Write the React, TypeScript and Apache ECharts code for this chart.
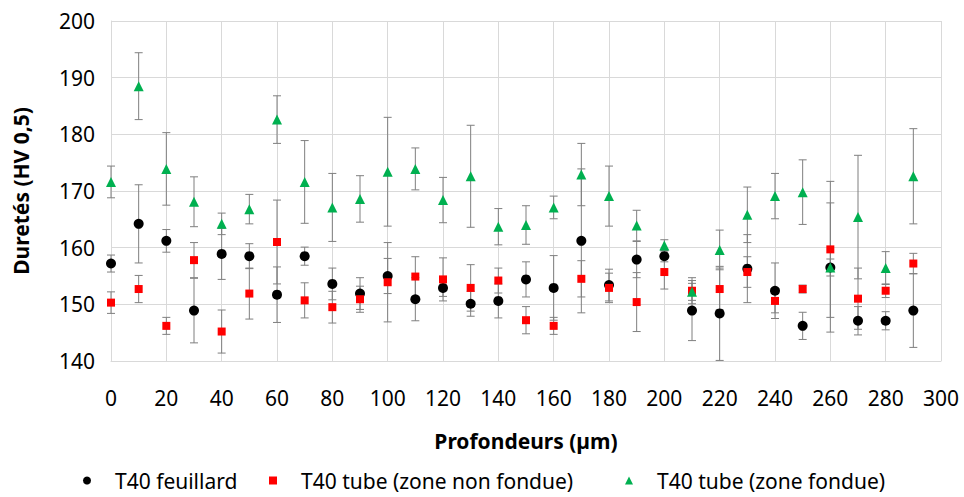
import React, { useEffect, useRef } from "react";
import * as echarts from "echarts";

const depths = [0, 10, 20, 30, 40, 50, 60, 70, 80, 90, 100, 110, 120, 130, 140, 150, 160, 170, 180, 190, 200, 210, 220, 230, 240, 250, 260, 270, 280, 290];

const feuillardMean = [157.2, 164.2, 161.2, 148.9, 158.9, 158.5, 151.7, 158.5, 153.6, 151.9, 155.0, 150.9, 152.9, 150.1, 150.6, 154.4, 152.9, 161.2, 153.4, 157.9, 158.5, 148.9, 148.4, 156.3, 152.4, 146.2, 156.5, 147.1, 147.1, 148.9];
const feuillardErr = [1.5, 6.9, 2.0, 5.7, 4.5, 2.2, 4.9, 1.6, 2.8, 2.8, 3.1, 3.8, 1.5, 2.2, 3.0, 3.1, 5.7, 12.7, 2.8, 3.2, 1.0, 5.3, 8.3, 6.0, 4.9, 2.4, 11.4, 2.5, 1.6, 6.5];

const nonFondueMean = [150.3, 152.7, 146.2, 157.8, 145.2, 151.9, 161.0, 150.7, 149.5, 150.9, 153.9, 154.9, 154.4, 152.9, 154.2, 147.2, 146.2, 154.5, 152.9, 150.4, 155.7, 152.4, 152.7, 155.7, 150.6, 152.7, 159.7, 151.0, 152.4, 157.2];
const nonFondueErr = [1.9, 2.4, 1.5, 3.1, 3.8, 4.5, 7.4, 3.1, 2.8, 2.3, 7.0, 3.5, 3.8, 4.1, 2.2, 2.4, 1.5, 3.2, 2.6, 5.2, 3.0, 2.3, 3.7, 2.7, 2.1, 0.7, 12.0, 5.4, 1.2, 1.8];

const fondueMean = [171.6, 188.5, 173.9, 168.1, 164.2, 166.8, 182.6, 171.6, 167.1, 168.6, 173.4, 173.9, 168.4, 172.6, 163.7, 164.0, 167.1, 172.9, 169.1, 163.9, 160.4, 152.2, 159.6, 165.8, 169.1, 169.8, 156.5, 165.4, 156.4, 172.6];
const fondueErr = [2.8, 5.9, 6.4, 4.4, 1.9, 2.6, 4.2, 7.3, 6.0, 4.1, 9.6, 3.7, 4.0, 9.0, 3.2, 3.4, 2.0, 5.5, 5.3, 2.7, 1.0, 1.5, 3.5, 4.9, 4.0, 5.7, 1.5, 10.9, 2.9, 8.4];

const seriesNames = ["T40 feuillard", "T40 tube (zone non fondue)", "T40 tube (zone fondue)"];
const FONT = "'Noto Sans', sans-serif";

function errData(mean: number[], err: number[]) {
  return depths.map((d, i) => [d, mean[i] - err[i], mean[i] + err[i]]);
}

function errSeries(mean: number[], err: number[]) {
  return {
    type: "custom",
    silent: true,
    z: 1,
    renderItem: (params: any, api: any) => {
      const x = api.value(0);
      const lo = api.coord([x, api.value(1)]);
      const hi = api.coord([x, api.value(2)]);
      const w = 4;
      const style = { stroke: "#7f7f7f", lineWidth: 1 };
      return {
        type: "group",
        children: [
          { type: "line", shape: { x1: lo[0], y1: lo[1], x2: hi[0], y2: hi[1] }, style },
          { type: "line", shape: { x1: lo[0] - w, y1: lo[1], x2: lo[0] + w, y2: lo[1] }, style },
          { type: "line", shape: { x1: hi[0] - w, y1: hi[1], x2: hi[0] + w, y2: hi[1] }, style },
        ],
      };
    },
    encode: { x: 0, y: [1, 2] },
    data: errData(mean, err),
  };
}

export default function App() {
  const ref = useRef<HTMLDivElement>(null);
  useEffect(() => {
    if (!ref.current) return;
    const chart = echarts.init(ref.current, null, { renderer: "svg" });
    const legendBase = {
      bottom: 1,
      itemWidth: 8,
      itemHeight: 8,
      textStyle: { fontFamily: FONT, fontSize: 21, color: "#000", padding: [0, 0, 0, 19] },
      itemGap: 10,
    };
    chart.setOption({
      animation: false,
      backgroundColor: "#fff",
      grid: { left: 111, right: 23, top: 21, bottom: 136 },
      legend: [
        { ...legendBase, left: 78, data: [{ name: seriesNames[0], icon: "circle" }] },
        { ...legendBase, left: 264, data: [{ name: seriesNames[1], icon: "rect" }] },
        { ...legendBase, left: 620, data: [{ name: seriesNames[2], icon: "triangle" }] },
      ],
      xAxis: {
        type: "value",
        min: 0,
        max: 300,
        interval: 20,
        name: "Profondeurs (µm)",
        nameLocation: "middle",
        nameGap: 69,
        nameTextStyle: { fontFamily: FONT, fontSize: 21, fontWeight: "bold", color: "#000" },
        axisLine: { show: true, lineStyle: { color: "#d9d9d9" } },
        axisTick: { show: false },
        axisLabel: { fontFamily: FONT, fontSize: 21, color: "#000", margin: 26 },
        splitLine: { show: true, lineStyle: { color: "#d9d9d9" } },
      },
      yAxis: {
        type: "value",
        min: 140,
        max: 200,
        interval: 10,
        name: "Duretés (HV 0,5)",
        nameLocation: "middle",
        nameGap: 80,
        nameTextStyle: { fontFamily: FONT, fontSize: 21, fontWeight: "bold", color: "#000" },
        axisLine: { show: true, lineStyle: { color: "#d9d9d9" } },
        axisTick: { show: false },
        axisLabel: { fontFamily: FONT, fontSize: 21, color: "#000", margin: 16 },
        splitLine: { show: true, lineStyle: { color: "#d9d9d9" } },
      },
      series: [
        errSeries(feuillardMean, feuillardErr),
        errSeries(nonFondueMean, nonFondueErr),
        errSeries(fondueMean, fondueErr),
        {
          name: seriesNames[0],
          type: "scatter",
          symbol: "circle",
          symbolSize: 10,
          z: 3,
          itemStyle: { color: "#000", opacity: 1 },
          data: depths.map((d, i) => [d, feuillardMean[i]]),
        },
        {
          name: seriesNames[1],
          type: "scatter",
          symbol: "rect",
          symbolSize: 8,
          z: 4,
          itemStyle: { color: "#ff0000", opacity: 1 },
          data: depths.map((d, i) => [d, nonFondueMean[i]]),
        },
        {
          name: seriesNames[2],
          type: "scatter",
          symbol: "triangle",
          symbolSize: 10,
          z: 5,
          itemStyle: { color: "#00b050", opacity: 1 },
          data: depths.map((d, i) => [d, fondueMean[i]]),
        },
      ],
    });
    return () => chart.dispose();
  }, []);
  return <div ref={ref} style={{ width: 964, height: 497, position: "absolute", left: 0, top: 0 }} />;
}
